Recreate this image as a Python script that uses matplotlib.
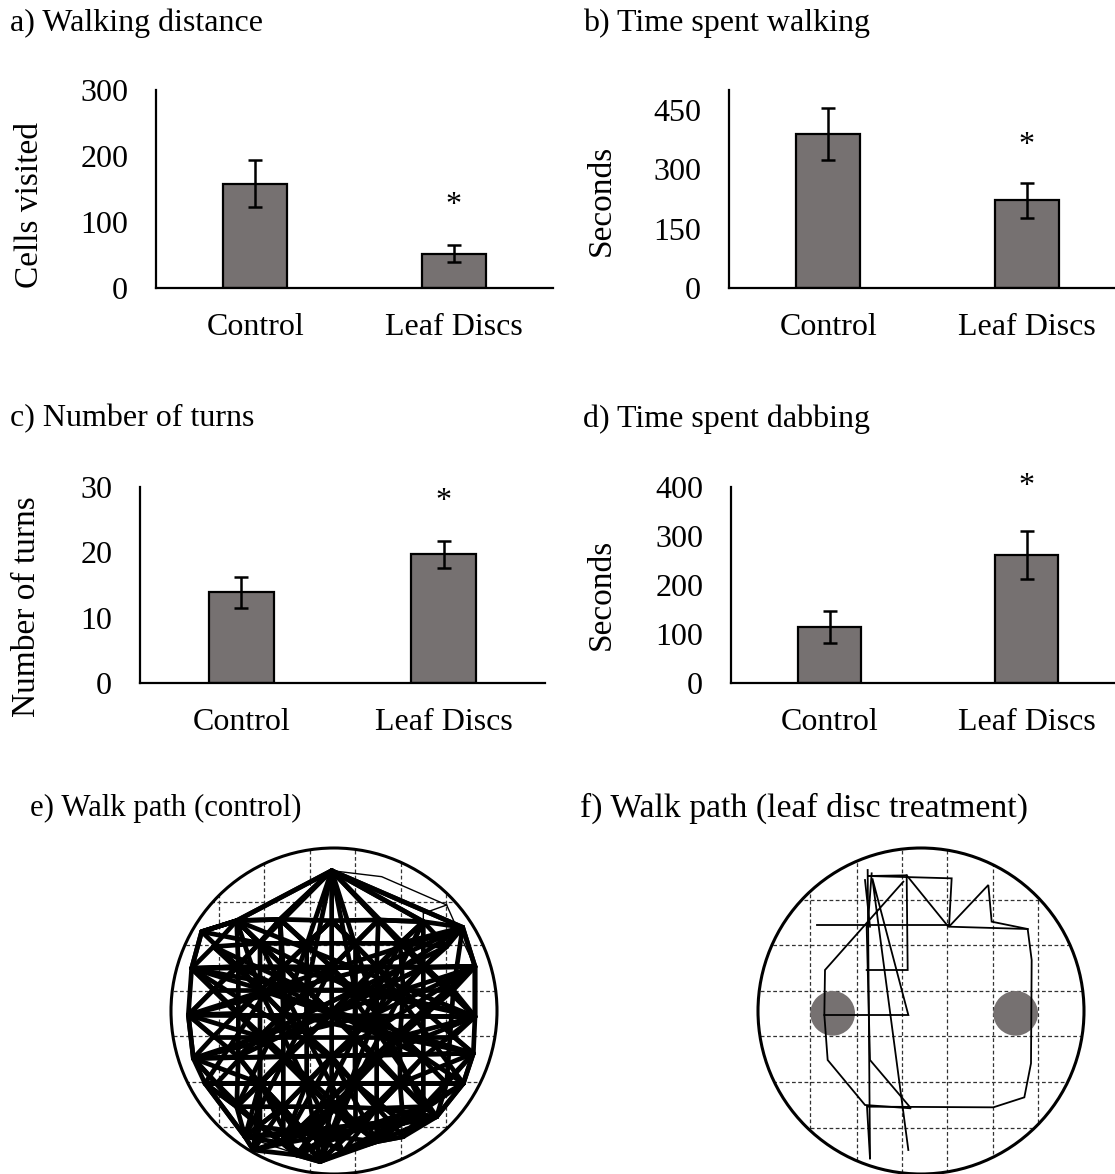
import matplotlib
matplotlib.use('Agg')
import matplotlib.pyplot as plt
from matplotlib.patches import Circle

plt.rcParams['font.family'] = ['Liberation Serif', 'DejaVu Serif']

W, H = 1115, 1174
fig = plt.figure(figsize=(W / 100, H / 100), dpi=100)

# ---------------- data ----------------
categories = ['Control', 'Leaf Discs']
dist_mean = [158, 52]
dist_err = [36, 13]
walk_mean = [388, 221]
walk_err = [66, 45]
turns_mean = [13.9, 19.7]
turns_err = [2.4, 2.1]
dab_mean = [114, 261]
dab_err = [33, 49]

dist_ticks = [0, 100, 200, 300]
walk_ticks = [0, 150, 300, 450]
turns_ticks = [0, 10, 20, 30]
dab_ticks = [0, 100, 200, 300, 400]

# walk path (control), arena image coordinates
ctrl_nodes = {
    'A': (485, 62),
    'T1': (200, 212), 'T2': (330, 208), 'T3': (485, 212), 'T4': (625, 210), 'T5': (760, 215), 'T6': (878, 232),
    'G0': (95, 245), 'G1': (635, 80), 'G2': (830, 165), 'G3': (760, 190), 'G4': (870, 255),
    'H0': (130, 290), 'H1': (270, 280), 'H2': (410, 280), 'H3': (555, 280), 'H4': (690, 280), 'H5': (830, 290),
    'L1': (65, 355), 'B1': (205, 350), 'C1': (340, 350), 'D1': (485, 352), 'E1': (620, 350), 'F1': (760, 352), 'R1': (915, 350),
    'I0': (130, 420), 'I1': (410, 420), 'I2': (555, 420), 'I3': (270, 420), 'I4': (700, 420), 'I5': (850, 420),
    'L2': (55, 495), 'B2': (205, 490), 'C2': (340, 490), 'D2': (485, 490), 'E2': (620, 490), 'F2': (760, 480), 'R2': (915, 500),
    'J0': (130, 560), 'J1': (270, 560), 'J2': (410, 560), 'J3': (555, 560), 'J4': (690, 560), 'J5': (850, 560),
    'L3': (70, 625), 'B3': (205, 620), 'C3': (340, 625), 'D3': (485, 620), 'E3': (620, 620), 'F3': (760, 620), 'R3': (910, 610),
    'K0': (140, 700), 'K1': (270, 700), 'K2': (410, 700), 'K3': (555, 700), 'K4': (690, 700), 'K5': (830, 700),
    'L4': (105, 700), 'B4': (200, 770), 'C4': (340, 770), 'D4': (485, 770), 'E4': (620, 775), 'F4': (760, 770), 'R4': (880, 700),
    'M1': (270, 830), 'M2': (410, 850), 'M3': (555, 840), 'M4': (700, 820),
    'B5': (225, 860), 'C5': (340, 880), 'D5': (450, 935), 'E5': (620, 875), 'F5': (800, 800),
    'N1': (250, 900), 'N2': (380, 915), 'N3': (520, 905), 'N4': (700, 860),
}
ctrl_walks = [
    'A T1 G0 L1 L2 L3 L4 B5 C5 D5 E5 F5 R4 R3 R2 R1 T6 A',
    'T1 T2 T3 T4 T5 T6 R1 L1 B1 C1 D1 E1 F1 R1 R2 L2 L3 R3 R4 L4 B4 C4 D4 E4 F4 R4',
    'A T2 C1 C2 C3 C4 C5', 'A T3 D1 D2 D3 D4 D5', 'A T4 E1 E2 E3 E4 E5', 'A T5 F1 F2 F3 F4 F5', 'A T6',
    'T1 B1 B2 B3 B4 B5', 'A T1 T2 A T4 T5 A',
    'T1 C1 D2 E3 F4 E5 D4 C3 B2 L1', 'G0 B1 C2 D3 E4 F5', 'T2 D1 E2 F3 R4', 'T3 E1 F2 R3', 'T4 F1 R2',
    'T6 F1 E2 D3 C4 B5', 'T5 E1 D2 C3 B4 L4', 'T4 D1 C2 B3 L3', 'T3 C1 B2 L2', 'T2 B1 L1',
    'T1 D2 F4', 'T6 D2 B4', 'L1 D3 E5', 'R1 D3 C5', 'A C2 B4', 'A E2 F4', 'L2 E1 T6', 'R2 C1 T1',
    'L3 E2 T5', 'R3 C2 T2', 'B5 D1 T4', 'F5 D1 T2', 'C5 F2 R1', 'E5 B2 L1', 'L4 C1 T3', 'R4 E1 T3',
    'D5 B3 L2', 'D5 F3 R2', 'T1 R2', 'T6 L2', 'L1 R3', 'R1 L3', 'B1 F3', 'F1 B3', 'C1 F4', 'E1 B4',
    'A L2', 'A R2', 'L4 R4', 'B5 F5', 'L2 R2', 'L3 R3', 'C4 E2 R1', 'B4 D2 F1', 'C5 E3 R2', 'D5 E2 T5',
    'H0 H1 H2 H3 H4 H5', 'I0 I3 I1 I2 I4 I5', 'J0 J1 J2 J3 J4 J5', 'K0 K1 K2 K3 K4 K5',
    'H0 I1 J2 K3 M4', 'H5 I2 J1 K0', 'H1 I3 J0', 'H2 I1 J1 K1 M1', 'H3 I2 J3 K3 M3', 'H4 I4 J4 K4 M4',
    'I0 J1 K2 M3', 'I5 J4 K3 M2', 'H1 J2 M3', 'H4 J3 M2', 'I3 K2 N3', 'I4 K3 N2', 'T1 I3 K1 N1',
    'T6 I5 K5 F5', 'A I1 K2 D5', 'A I2 K3 D5', 'L1 I1 I2 R2', 'L2 J1 I2 H4 T5', 'R2 J4 I3 H0',
    'L3 K1 M2 N3', 'R3 K4 M3 N2', 'G0 H1 I2 J4 K5', 'T6 H4 I2 J2 K1 B5',
    'L4 K0 B4 M1 N1 N2 D5 N3 E5 N4 F5 R4', 'M1 M2 M3 M4 F5', 'N1 M2 N3 M4', 'B5 M2 E5', 'C5 M3 F5',
    'B4 N2 M3 F4', 'C4 N1 B5 C4', 'D4 N2 E4 N3 F4', 'K0 M1 C5 K2 M3 K4 F5', 'K1 N2 K3 N4 K5',
    'L4 B5 N1 C5 N2 D5 N3 E5 N4', 'B4 C5 D4 E5 F4', 'C4 D5 E4', 'L3 B4 C5', 'R3 F4 E5', 'K0 K1 M2 K3 M4 R4',
    'L1 H0 T1 H1 T2 H2 T3 H3 T4 H4 T5 H5 T6', 'L1 I0 L2 J0 L3 K0 L4', 'R1 I5 R2 J5 R3 K5 R4',
    'G0 T1 G0 L1', 'H0 B1 I3 C2 J1 B3 K1', 'H5 F1 I4 F2 J4 F3 K4', 'B2 I0 B1', 'F2 I5 F1',
]
ctrl_thin = ['A G1 G2 G4 R1', 'G0 T1', 'T5 G3 G2', 'L4 B5 D5 F5']

# walk path (leaf disc treatment), arena image coordinates
leaf_walks = [
    [(345, 925), (336, 770), (715, 772), (808, 742), (828, 640), (830, 330), (818, 237), (710, 215),
     (700, 105), (582, 230), (590, 85), (340, 78)],
    [(340, 78), (455, 76), (580, 230), (818, 237)],
    [(185, 225), (580, 225)],
    [(455, 76), (458, 360), (335, 360)],
    [(445, 95), (210, 360), (208, 495), (460, 495), (352, 85), (460, 900)],
    [(208, 495), (218, 630), (330, 765), (468, 775), (345, 630), (335, 230)],
    [(338, 60), (345, 925)],
    [(330, 90), (345, 230)],
    [(350, 70), (338, 230)],
]
leaf_discs = [(233, 490), (782, 490)]

ctrl_vlines = [148, 283, 420, 555, 692, 828]
ctrl_hlines = [155, 285, 422, 558, 695, 830]
leaf_vlines = [165, 305, 440, 577, 713, 850]
leaf_hlines = [150, 285, 422, 558, 695, 833]

BAR = '#767171'
FS = 23


def px_axes(left, top, width, height):
    return fig.add_axes([left / W, 1 - (top + height) / H, width / W, height / H])


def bar_panel(left, top, width, height, means, errs, ymax, ticks, star):
    ax = px_axes(left, top, width, height)
    x = range(len(categories))
    ax.bar(x, means, width=0.32, color=BAR, edgecolor='black', linewidth=1.6, zorder=2)
    ax.errorbar(x, means, yerr=errs, fmt='none', ecolor='black', elinewidth=1.8,
                capsize=5, capthick=1.8, zorder=3)
    ax.set_xlim(-0.5, 1.5)
    ax.set_ylim(0, ymax)
    ax.set_yticks(ticks)
    ax.set_xticks(list(x))
    ax.set_xticklabels(categories)
    ax.tick_params(axis='both', length=0, labelsize=FS)
    ax.tick_params(axis='y', pad=20)
    ax.tick_params(axis='x', pad=18)
    for s in ['top', 'right']:
        ax.spines[s].set_visible(False)
    for s in ['left', 'bottom']:
        ax.spines[s].set_linewidth(1.6)
    ax.text(1, star, '*', ha='center', va='center', fontsize=FS)
    return ax


def title(x, y, s, fs=FS):
    fig.text(x / W, 1 - y / H, s, ha='left', va='center', fontsize=fs)


def ylab(x, y, s):
    fig.text(x / W, 1 - y / H, s, ha='center', va='center', rotation=90, fontsize=24)


# a
bar_panel(156, 90, 397, 198, dist_mean, dist_err, 300, dist_ticks, 125)
title(10, 23, 'a) Walking distance')
ylab(30, 205, 'Cells visited')
# b
bar_panel(729, 90, 397, 198, walk_mean, walk_err, 500, walk_ticks, 359)
title(583, 23, 'b) Time spent walking')
ylab(602, 200, 'Seconds')
# c
bar_panel(140, 487, 405, 196, turns_mean, turns_err, 30, turns_ticks, 27.8)
title(10, 419, 'c) Number of turns')
ylab(27, 607, 'Number of turns')
# d
bar_panel(731, 487, 394, 196, dab_mean, dab_err, 400, dab_ticks, 402)
title(583, 419, 'd) Time spent dabbing')
ylab(602, 594, 'Seconds')


def arena(left, top, cx, cy, vlines, hlines):
    ax = px_axes(left, top, 330, 324)
    ax.set_xlim(0, 990)
    ax.set_ylim(972, 0)
    ax.axis('off')
    circ = Circle((cx, cy), 489, fill=False, lw=2.2, ec='black', zorder=6, clip_on=False)
    ax.add_patch(circ)
    for v in vlines:
        ln, = ax.plot([v, v], [cy - 500, cy + 500], ls=(0, (3, 2)), lw=0.9, color='#333333', zorder=1)
        ln.set_clip_path(circ)
    for h in hlines:
        ln, = ax.plot([cx - 500, cx + 500], [h, h], ls=(0, (3, 2)), lw=0.9, color='#333333', zorder=1)
        ln.set_clip_path(circ)
    return ax


# e
axe = arena(170, 850, 492, 483, ctrl_vlines, ctrl_hlines)
for w in ctrl_walks:
    pts = [ctrl_nodes[k] for k in w.split()]
    axe.plot([p[0] for p in pts], [p[1] for p in pts], color='black', lw=3.4,
             solid_capstyle='round', solid_joinstyle='round', zorder=3)
for w in ctrl_thin:
    pts = [ctrl_nodes[k] for k in w.split()]
    axe.plot([p[0] for p in pts], [p[1] for p in pts], color='black', lw=1.0, zorder=3)
title(30, 808, 'e) Walk path (control)', 22.2)

# f
axf = arena(755, 850, 498, 483, leaf_vlines, leaf_hlines)
for (dx, dy) in leaf_discs:
    axf.add_patch(Circle((dx, dy), 67, color=BAR, zorder=2, lw=0))
for seg in leaf_walks:
    axf.plot([p[0] for p in seg], [p[1] for p in seg], color='black', lw=1.3,
             solid_joinstyle='miter', zorder=4)
title(580, 808, 'f) Walk path (leaf disc treatment)', 24.3)

fig.savefig('out.png', dpi=100)
